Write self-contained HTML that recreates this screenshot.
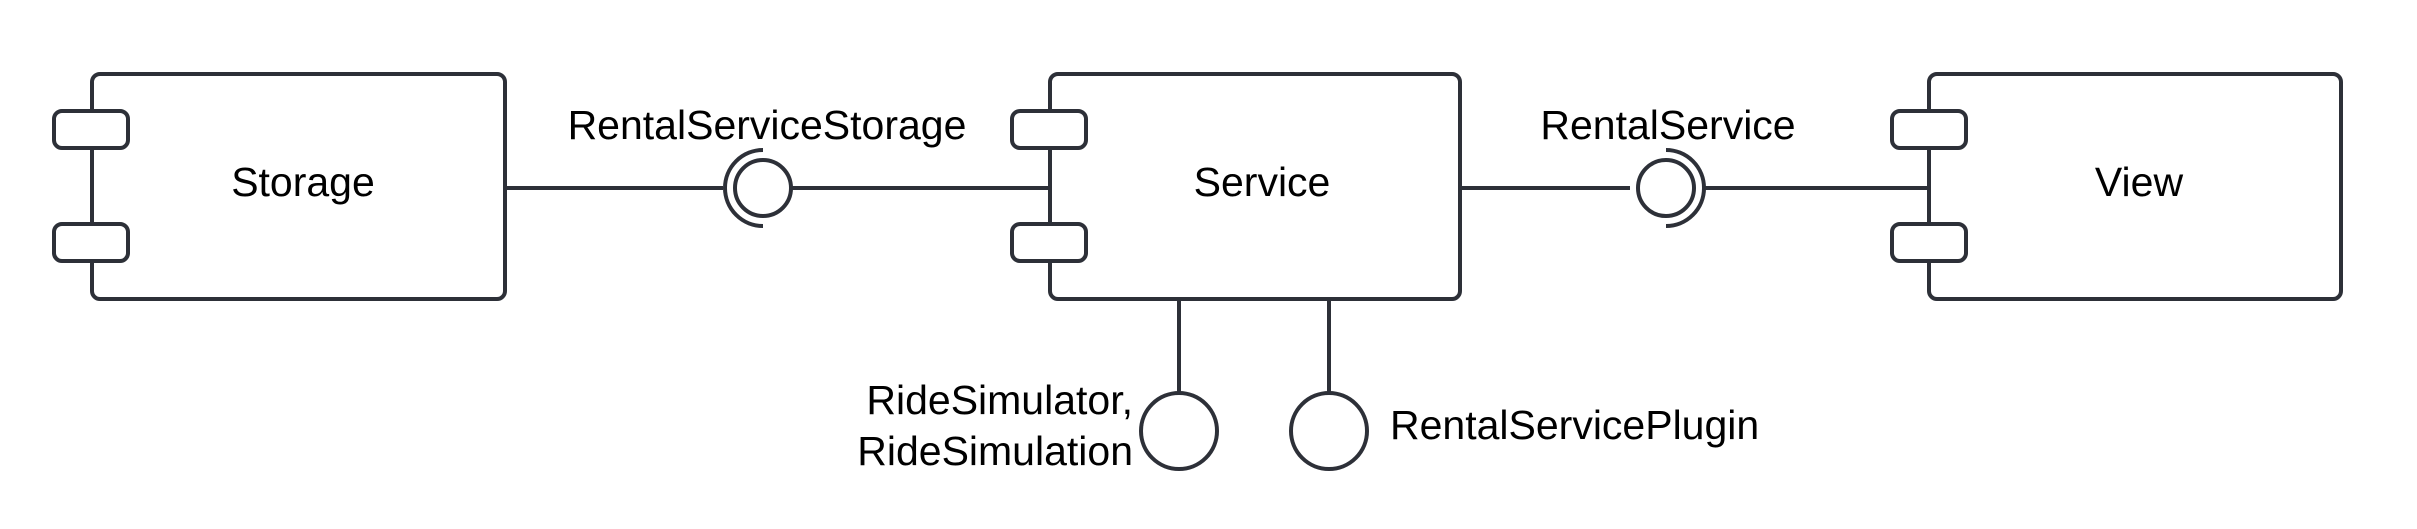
<!DOCTYPE html>
<html><head><style>body{margin:0;background:#fff}svg{display:block}</style></head><body>
<svg width="2417" height="529" viewBox="0 0 2417 529" xmlns="http://www.w3.org/2000/svg" font-family="Liberation Sans, sans-serif" font-size="41" fill="#000">
<g stroke="#2d3038" stroke-width="4" fill="#fff">
<rect x="92" y="74" width="413" height="225" rx="8"/>
<rect x="54" y="111" width="74" height="37" rx="8"/>
<rect x="54" y="224" width="74" height="37" rx="8"/>
<rect x="1050" y="74" width="410" height="225" rx="8"/>
<rect x="1012" y="111" width="74" height="37" rx="8"/>
<rect x="1012" y="224" width="74" height="37" rx="8"/>
<rect x="1929" y="74" width="412" height="225" rx="8"/>
<rect x="1892" y="111" width="74" height="37" rx="8"/>
<rect x="1892" y="224" width="74" height="37" rx="8"/>
<line x1="505" y1="188" x2="723" y2="188"/>
<line x1="790" y1="188" x2="1050" y2="188"/>
<circle cx="763" cy="188" r="28"/>
<path d="M763 150 A38 38 0 0 0 763 226" fill="none"/>
<line x1="1460" y1="188" x2="1630" y2="188"/>
<line x1="1704" y1="188" x2="1929" y2="188"/>
<circle cx="1666" cy="188" r="28"/>
<path d="M1666 150 A38 38 0 0 1 1666 226" fill="none"/>
<line x1="1179" y1="299" x2="1179" y2="393"/>
<circle cx="1179" cy="431" r="38"/>
<line x1="1329" y1="299" x2="1329" y2="393"/>
<circle cx="1329" cy="431" r="38"/>
</g>
<g text-anchor="middle">
<text x="303" y="196">Storage</text>
<text x="1262" y="196">Service</text>
<text x="2139" y="196">View</text>
<text x="767" y="139">RentalServiceStorage</text>
<text x="1668" y="139">RentalService</text>
</g>
<text x="1133" y="414" text-anchor="end">RideSimulator,</text>
<text x="1133" y="465" text-anchor="end">RideSimulation</text>
<text x="1390" y="439">RentalServicePlugin</text>
</svg>
</body></html>
